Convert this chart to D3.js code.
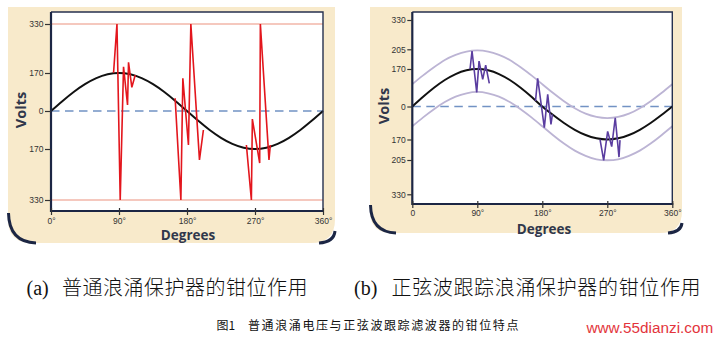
<!DOCTYPE html>
<html><head><meta charset="utf-8">
<script src="https://cdn.jsdelivr.net/npm/d3@7"></script>
<style>body{margin:0;background:#fff}svg{display:block}</style>
</head><body><svg id="c" width="719" height="346"></svg>
<script>
// ---------- DATA ----------
const angleSteps = [0,15,30,45,60,75,90,105,120,135,150,165,180,195,210,225,240,255,270,285,300,315,330,345,360];
const sineVolts  = [0,44,85,120,147,164,170,164,147,120,85,44,0,-44,-85,-120,-147,-164,-170,-164,-147,-120,-85,-44,0];
const upperBand  = [101,141,173,186,195,201,203,201,195,186,173,141,101,61,24,-9,-37,-54,-60,-54,-37,-9,24,61,101];
const lowerBand  = [-102,-56,-14,20,45,60,66,60,45,20,-14,-56,-102,-148,-177,-189,-198,-204,-206,-204,-198,-189,-177,-148,-102];

const redSpike1 = [[82.8,171],[87.3,330],[91.6,-330],[96,190],[101.3,27],[102.6,205],[107,106],[111.5,161]];
const redSpike2 = [[164.3,57],[171.9,-330],[174.5,146],[181.9,-152],[185.1,330],[196.5,-204],[201.7,-85]];
const redSpike3 = [[258.6,-152],[265.2,-330],[266.5,-36],[276.2,-214],[277.1,330],[288.5,-204],[290.3,-152]];

const purpleSpike1 = [[79.9,169],[82.7,202],[89.2,64],[92.4,184],[97.5,123],[101.6,177],[106.6,105]];
const purpleSpike2 = [[170.6,25],[173.6,128],[182.8,-109],[187.5,55],[192,-92],[194,-41]];
const purpleSpike3 = [[259.9,-169],[265,-206],[270.5,-128],[276.1,-182],[281,-58],[286.2,-200],[287.6,-171]];

const clampLevels = [330,-330];

const xTicks = [0,90,180,270,360];
const xTickLabelsA = ["0°","90°","180°","270°","360°"];
const xTickLabelsB = ["0","90°","180°","270°","360°"];
const yTicksA = [330,170,0,-170,-330];
const yTickLabelsA = ["330","170","0","170","330"];
const yTicksB = [330,205,170,0,-170,-205,-330];
const yTickLabelsB = ["330","205","170","0","170","205","330"];

const axisTitleX = "Degrees", axisTitleY = "Volts";
const captionA = ["(a)","普通浪涌保护器的钳位作用"];
const captionB = ["(b)","正弦波跟踪浪涌保护器的钳位作用"];
const figCaption = ["图1","普通浪涌电压与正弦波跟踪滤波器的钳位特点"];
const siteMark = "www.55dianzi.com";

// ---------- DRAW ----------
const svg = d3.select("#c");
svg.append("rect").attr("width",719).attr("height",346).attr("fill","#fff");

const beige = "#f8eacb", navy = "#1c2644";

function panelBg(x0,y0,x1,y1,r){
  svg.append("path")
    .attr("d",`M${x0},${y0}H${x1}V${y1-r}Q${x1},${y1} ${x1-r},${y1}H${x0+r}Q${x0},${y1} ${x0},${y1-r}Z`)
    .attr("fill",beige);
  svg.append("path").attr("d",`M${x0+0.5},${y1-r-6}Q${x0+1},${y1-1} ${x0+r+4},${y1}`)
    .attr("fill","none").attr("stroke",navy).attr("stroke-width",3);
  svg.append("path").attr("d",`M${x1-r+8},${y1}Q${x1-1},${y1-1} ${x1},${y1-r+12}`)
    .attr("fill","none").attr("stroke",navy).attr("stroke-width",3);
}
panelBg(8,7,335,243,24);
panelBg(370,7,682,233,22);

const xA = d3.scaleLinear().domain([0,360]).range([51,323]);
const yA = d3.scaleLinear().domain([-330,-170,0,170,330]).range([200,149,111,73,24]);
const xB = d3.scaleLinear().domain([0,360]).range([412.3,672.3]);
const yB = d3.scaleLinear().domain([-330,-205,-170,0,170,205,330]).range([194.3,160,139.5,106.5,69,49.3,20]);

function drawPanel(x,y,top,bottom,opt){
  const [l,r] = x.range();
  const g = svg.append("g");
  g.append("rect").attr("x",l).attr("y",top).attr("width",r-l).attr("height",bottom-top).attr("fill","#fff");

  if(opt.clamp){
    g.selectAll(".clamp").data(clampLevels).join("line")
      .attr("x1",l).attr("x2",r).attr("y1",d=>y(d)).attr("y2",d=>y(d))
      .attr("stroke","#f2b6a8").attr("stroke-width",1.5);
  }
  g.append("line").attr("x1",l).attr("x2",r).attr("y1",y(0)).attr("y2",y(0))
    .attr("stroke","#7292c4").attr("stroke-width",1.6).attr("stroke-dasharray","8.5,5.5");

  const smooth = d3.line().x((d,i)=>x(angleSteps[i])).y(d=>y(d)).curve(d3.curveNatural);
  if(opt.bands){
    [upperBand,lowerBand].forEach(b=>g.append("path").attr("d",smooth(b))
      .attr("fill","none").attr("stroke","#bcb4d4").attr("stroke-width",1.8));
  }
  g.append("path").attr("d",smooth(sineVolts)).attr("fill","none")
    .attr("stroke","#111").attr("stroke-width",2);

  const poly = d3.line().x(d=>x(d[0])).y(d=>y(d[1]));
  opt.spikes.forEach(s=>g.append("path").attr("d",poly(s)).attr("fill","none")
    .attr("stroke",opt.spikeColor).attr("stroke-width",1.6).attr("stroke-linejoin","miter"));

  g.append("path").attr("d",`M${l},${top}H${r}V${bottom}`).attr("fill","none")
    .attr("stroke","#26314f").attr("stroke-width",1.4);
  g.append("path").attr("d",`M${l},${top}V${bottom}H${r+1}`).attr("fill","none")
    .attr("stroke",navy).attr("stroke-width",2.2);

  const ya = g.append("g").attr("transform",`translate(${l},0)`)
    .call(d3.axisLeft(y).tickValues(opt.yTicks).tickFormat((d,i)=>opt.yLabels[i]).tickSize(opt.yTickSize).tickPadding(1.5));
  ya.select(".domain").remove();
  ya.selectAll("line").attr("stroke","#333").attr("stroke-width",1.2);
  ya.selectAll("text").attr("fill","#333").style("font","8.5px 'Liberation Sans', Arial, sans-serif");

  const xa = g.append("g").attr("transform",`translate(0,${bottom})`)
    .call(d3.axisBottom(x).tickValues(xTicks).tickFormat((d,i)=>opt.xLabels[i]).tickSize(4));
  xa.select(".domain").remove();
  xa.selectAll("line").attr("y1",-3).attr("y2",4).attr("stroke","#333").attr("stroke-width",1.2);
  xa.selectAll("text").attr("y",opt.xLabelY).attr("dy",0).attr("fill","#333")
    .style("font","8.5px 'Liberation Sans', Arial, sans-serif");

  svg.append("text").attr("x",opt.titleX[0]).attr("y",opt.titleX[1]).attr("text-anchor","middle")
    .attr("fill","#30374b").style("font","bold 13.5px 'Open Sans', sans-serif").text(axisTitleX);
  svg.append("text").attr("transform",`translate(${opt.titleY[0]},${opt.titleY[1]}) rotate(-90)`)
    .attr("text-anchor","middle").attr("fill","#30374b")
    .style("font","bold 14.5px 'Open Sans', sans-serif").text(axisTitleY);
}

drawPanel(xA,yA,12,211,{clamp:true,bands:false,spikes:[redSpike1,redSpike2,redSpike3],spikeColor:"#e3161d",
  yTicks:yTicksA,yLabels:yTickLabelsA,xLabels:xTickLabelsA,yTickSize:6,xLabelY:13,titleX:[188,240],titleY:[26,110]});
drawPanel(xB,yB,12,204,{clamp:false,bands:true,spikes:[purpleSpike1,purpleSpike2,purpleSpike3],spikeColor:"#5a3da0",
  yTicks:yTicksB,yLabels:yTickLabelsB,xLabels:xTickLabelsB,yTickSize:5,xLabelY:12,titleX:[544,233.5],titleY:[389,106]});

function caption(x,y,parts,cjkX,spacing){
  svg.append("text").attr("x",x).attr("y",y).attr("fill","#111")
    .style("font","20px 'Liberation Serif', serif").text(parts[0]);
  svg.append("text").attr("x",cjkX).attr("y",y).attr("fill","#111")
    .style("font","300 20px 'Noto Sans CJK SC', sans-serif").style("letter-spacing",spacing+"px").text(parts[1]);
}
caption(26.5,295,captionA,62,0.5);
caption(354,295,captionB,391.5,0.65);

svg.append("text").attr("x",216.5).attr("y",330).attr("fill","#111")
  .style("font","12px 'Noto Sans CJK SC', sans-serif").text(figCaption[0]);
svg.append("text").attr("x",248).attr("y",330).attr("fill","#111")
  .style("font","12px 'Noto Sans CJK SC', sans-serif").style("letter-spacing","1.6px").text(figCaption[1]);
svg.append("text").attr("x",586.5).attr("y",332.5).attr("fill","#e3343c")
  .style("font","15.3px 'Liberation Sans', Arial, sans-serif").text(siteMark);
</script>
</body></html>
